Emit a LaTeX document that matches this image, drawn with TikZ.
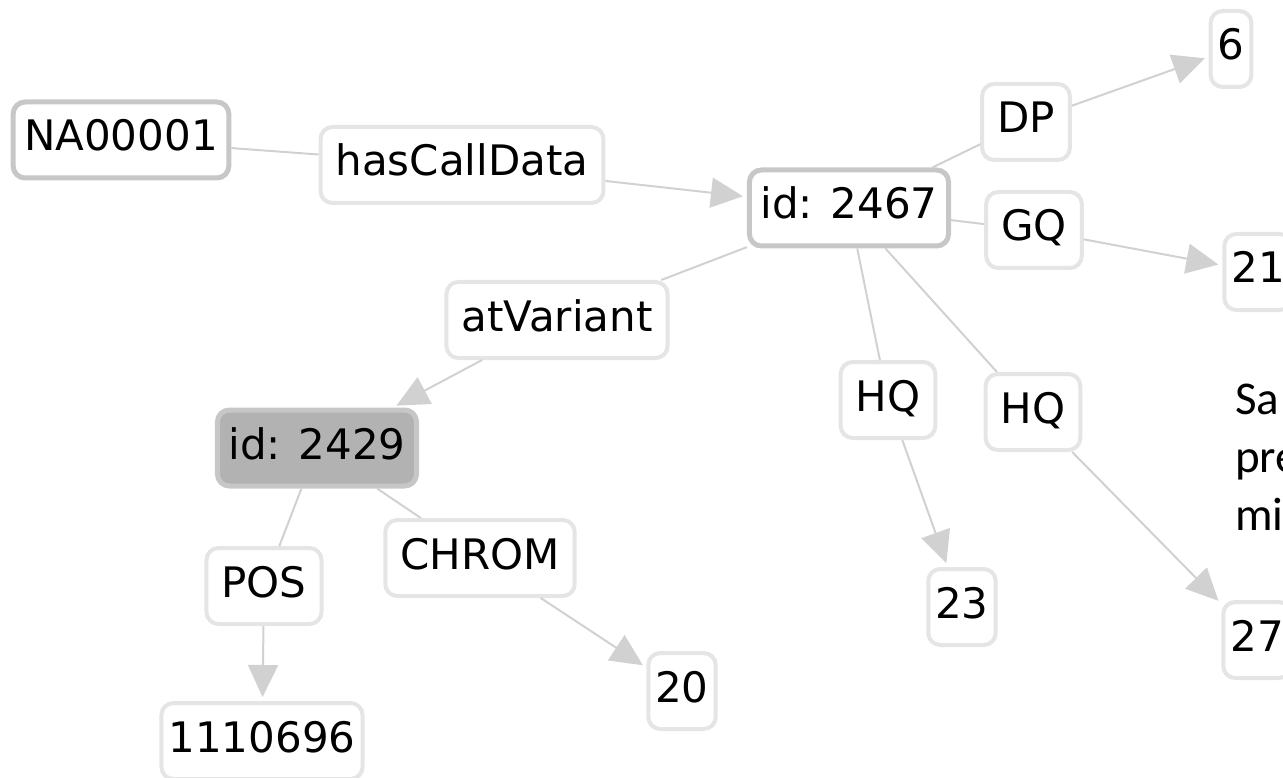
\documentclass[tikz,border=0pt]{standalone}
\usepackage{fontspec}
\usetikzlibrary{positioning, arrows.meta}
\newfontfamily\graphfont{DejaVu Sans}
\newfontfamily\slidefont{Carlito}
\newcommand{\nodefont}{\graphfont\fontsize{42}{50}\selectfont}
\newcommand{\notefont}{\slidefont\fontsize{47}{58}\selectfont}

\begin{document}
\begin{tikzpicture}[
  x=1pt, y=-1pt, on grid,
  box/.style={draw=black!10, line width=4pt, rounded corners=12pt,
              fill=white, font=\nodefont, text height=31pt, text depth=9pt,
              inner ysep=18pt, inner xsep=8pt},
  root/.style={box, draw=black!22, line width=5pt, inner xsep=11pt},
  key/.style={box, inner xsep=15pt},
  val/.style={box, inner xsep=7pt},
  sel/.style={root, fill=black!30},
  link/.style={draw=black!18, line width=2pt},
  arr/.style={link, -{Triangle[length=32pt, width=30pt]}, shorten >=4pt},
  note/.style={font=\notefont, align=left, inner sep=0pt},
]
\useasboundingbox (0,0) rectangle (1283,778);
\clip (0,0) rectangle (1283,778);

\node[root] (na) at (121,140) {NA00001};
\node[key, below right=25pt and 341pt of na] (hcd) {hasCallData};
\node[root, below right=43pt and 387pt of hcd] (id67) {id: 2467};
\node[key, above right=86pt and 177pt of id67] (dp) {DP};
\node[val, above right=73pt and 205pt of dp] (six) {6};
\node[key, below right=22pt and 185pt of id67] (gq) {GQ};
\node[val, below right=42pt and 224pt of gq] (n21) {21};
\node[key, below right=192pt and 39pt of id67] (hqa) {HQ};
\node[val, below right=207pt and 74pt of hqa] (n23) {23};
\node[key, below right=204pt and 184pt of id67] (hqb) {HQ};
\node[val, below right=228pt and 224pt of hqb] (n27) {27};
\node[key, below left=112pt and 292pt of id67] (atv) {atVariant};
\node[sel, below left=128pt and 240pt of atv] (id29) {id: 2429};
\node[key, below left=138pt and 53pt of id29] (pos) {POS};
\node[val, below left=155pt and 2pt of pos] (n1110696) {1110696};
\node[key, below right=110pt and 163pt of id29] (chrom) {CHROM};
\node[val, below right=133pt and 202pt of chrom] (n20) {20};

\node[note, anchor=north west] (sample) at (1235,384) {Sa\\pre\\mi};

\draw[link] (na) -- (hcd);
\draw[arr] (hcd) -- (id67);
\draw[link] (id67) -- (dp);
\draw[arr] (dp) -- (six);
\draw[link] (id67) -- (gq);
\draw[arr] (gq) -- (n21);
\draw[link] (id67) -- (hqa);
\draw[arr] (hqa) -- (n23);
\draw[link] (id67) -- (hqb);
\draw[arr] (hqb) -- (n27);
\draw[link] (id67) -- (atv);
\draw[arr] (atv) -- (id29);
\draw[link] (id29) -- (pos);
\draw[arr] (pos) -- (n1110696);
\draw[link] (id29) -- (chrom);
\draw[arr] (chrom) -- (n20);
\end{tikzpicture}
\end{document}
